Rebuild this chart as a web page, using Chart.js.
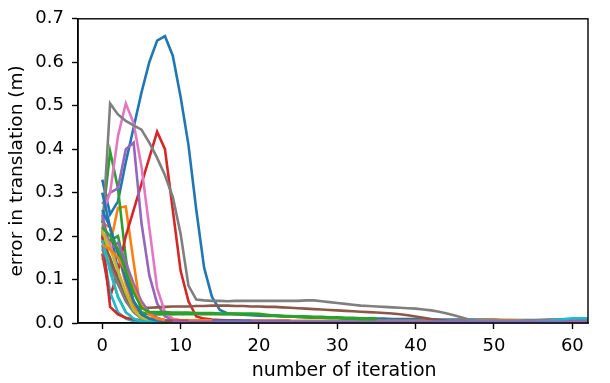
<!DOCTYPE html>
<html>
<head>
<meta charset="utf-8">
<script src="https://cdn.jsdelivr.net/npm/chart.js@4.4.1/dist/chart.umd.min.js"></script>
<style>
html,body{margin:0;padding:0;background:#fff;}
#wrap{width:610px;height:383px;position:relative;}
</style>
</head>
<body>
<div id="wrap"><canvas id="c" width="610" height="383"></canvas></div>
<script>
// x = iteration index (0,1,2,...), values = error in translation (m)
const blueA   = [0.33,0.25,0.28,0.37,0.45,0.53,0.60,0.65,0.66,0.615,0.52,0.41,0.26,0.127,0.06,0.03,0.022,0.02,0.019,0.018,0.017,0.016,0.016,0.015,0.015,0.014,0.014,0.013,0.013,0.012,0.012,0.011,0.011,0.011,0.010,0.010,0.010,0.009,0.009,0.009,0.009,0.008,0.008,0.008,0.008,0.008,0.008,0.008,0.008,0.008,0.008,0.007,0.007,0.007,0.007,0.007,0.007,0.007,0.007,0.007,0.007,0.007,0.007];
const orangeA = [0.145,0.18,0.265,0.268,0.14,0.018,0.012,0.009,0.007,0.006,0.006,0.005,0.005,0.005,0.005,0.005,0.005,0.005,0.005,0.005,0.005,0.005,0.005,0.005,0.005,0.005,0.005,0.005,0.005,0.005,0.005,0.005,0.005,0.005,0.005,0.005,0.005,0.005,0.005,0.005,0.005,0.005,0.005,0.005,0.005,0.005,0.005,0.005,0.006,0.007,0.007,0.007,0.007,0.006,0.005,0.005,0.005,0.005,0.005,0.005,0.005,0.005,0.005];
const greenA  = [0.23,0.395,0.31,0.15,0.035,0.022,0.02,0.02,0.02,0.02,0.02,0.02,0.02,0.02,0.02,0.02,0.02,0.02,0.02,0.02,0.019,0.018,0.017,0.016,0.016,0.015,0.015,0.014,0.014,0.013,0.013,0.012,0.012,0.011,0.011,0.010];
const redA    = [0.16,0.06,0.12,0.20,0.26,0.32,0.38,0.44,0.40,0.26,0.12,0.05,0.015,0.010,0.008,0.007,0.006,0.006,0.005,0.005,0.005,0.005,0.005,0.005,0.005];
const purpleA = [0.274,0.30,0.31,0.40,0.415,0.23,0.11,0.045,0.015,0.008,0.006,0.005,0.005,0.005,0.005,0.004,0.004,0.004,0.004,0.004];
const brownA  = [0.20,0.14,0.09,0.055,0.04,0.035,0.035,0.036,0.037,0.038,0.038,0.038,0.039,0.039,0.040,0.040,0.040,0.039,0.039,0.038,0.038,0.037,0.037,0.036,0.035,0.034,0.033,0.032,0.031,0.030,0.029,0.028,0.027,0.026,0.025,0.024,0.023,0.022,0.020,0.018,0.015,0.012,0.009,0.007,0.005,0.004,0.004,0.004,0.004,0.004,0.004,0.004,0.004,0.004,0.004,0.005,0.006,0.007,0.008,0.008,0.008,0.008,0.008];
const pinkA   = [0.25,0.30,0.43,0.505,0.46,0.36,0.22,0.08,0.025,0.010,0.006,0.005,0.005,0.004,0.004,0.004];
const grayA   = [0.20,0.505,0.48,0.465,0.455,0.445,0.415,0.38,0.34,0.29,0.205,0.086,0.054,0.052,0.051,0.051,0.050,0.051,0.051,0.051,0.051,0.051,0.051,0.051,0.051,0.051,0.052,0.052,0.050,0.048,0.046,0.044,0.042,0.040,0.039,0.038,0.037,0.036,0.035,0.034,0.033,0.031,0.029,0.026,0.022,0.017,0.012,0.007,0.005,0.005,0.005,0.005,0.005,0.005,0.005,0.006,0.007,0.008,0.008,0.008,0.008,0.008,0.008];
const oliveA  = [0.22,0.12,0.06,0.025,0.01,0.005,0.004,0.004,0.003,0.003,0.003];
const cyanA   = [0.18,0.07,0.025,0.01,0.004,0.003,0.003,0.003,0.003,0.003,0.003,0.003,0.003,0.003,0.003,0.003,0.003,0.003,0.003,0.003,0.003,0.003,0.003,0.003,0.003,0.003,0.003,0.003,0.003,0.003,0.003,0.003,0.003,0.003,0.003,0.003,0.003,0.003,0.003,0.003,0.003,0.003,0.003,0.003,0.003,0.003,0.003,0.003,0.003,0.003,0.003,0.003,0.003,0.003,0.003,0.003,0.004,0.005,0.007,0.009,0.011,0.011,0.011];
const blueB   = [0.30,0.22,0.12,0.06,0.03,0.015,0.008,0.006,0.005,0.005,0.005,0.005,0.005,0.005,0.005,0.005,0.005,0.005,0.005,0.005];
const orangeB = [0.23,0.22,0.16,0.09,0.04,0.015,0.008,0.006,0.006,0.006,0.006,0.006,0.006,0.006,0.006];
const greenB  = [0.20,0.19,0.20,0.12,0.05,0.025,0.02,0.02,0.021,0.021,0.022,0.022,0.022,0.022,0.022,0.021,0.021,0.021,0.020,0.020,0.019,0.018,0.017,0.016,0.015,0.015,0.014,0.013,0.013,0.012,0.012,0.011,0.011,0.010,0.010,0.009];
const redB    = [0.20,0.037,0.02,0.012,0.008,0.006,0.005,0.005,0.005,0.005,0.005,0.005];
const purpleB = [0.25,0.17,0.185,0.14,0.09,0.05,0.025,0.012,0.006,0.004,0.003,0.003,0.003,0.003,0.003,0.003,0.003,0.003,0.003,0.003,0.003,0.003,0.003,0.003,0.003,0.003,0.003,0.003,0.003,0.003,0.003,0.003,0.003,0.003,0.003,0.003,0.003,0.003,0.003,0.003,0.003,0.003,0.003,0.003,0.003,0.003,0.003,0.003,0.003,0.003,0.003,0.003,0.003,0.003,0.003,0.003,0.003,0.003,0.003,0.003,0.003,0.003,0.003];
const brownB  = [0.19,0.15,0.10,0.06,0.03,0.012,0.007,0.005,0.005,0.005];
const pinkB   = [0.21,0.18,0.12,0.07,0.03,0.012,0.006,0.004,0.004];
const grayB   = [0.17,0.13,0.09,0.05,0.025,0.010,0.005,0.004];
const oliveB  = [0.21,0.17,0.12,0.07,0.03,0.012,0.006,0.005];
const cyanB   = [0.19,0.12,0.06,0.025,0.010,0.004,0.003,0.003];
const blueC   = [0.26,0.22,0.16,0.10,0.05,0.02,0.010,0.006,0.005];
const orangeC = [0.18,0.17,0.15,0.12,0.08,0.04,0.02,0.010,0.007];
const greenC  = [0.22,0.20,0.17,0.12,0.07,0.035,0.025,0.025,0.025,0.024,0.024,0.024,0.023,0.023,0.023,0.022,0.022,0.022,0.022,0.022,0.021,0.019,0.017,0.016,0.015,0.014,0.013,0.012,0.012,0.011,0.011,0.010,0.010,0.009,0.009,0.009];

const seriesList = [blueA,orangeA,greenA,redA,purpleA,brownA,pinkA,grayA,oliveA,cyanA,
                    blueB,orangeB,greenB,redB,purpleB,brownB,pinkB,grayB,oliveB,cyanB,
                    blueC,orangeC,greenC];
const palette = ['#1f77b4','#ff7f0e','#2ca02c','#d62728','#9467bd','#8c564b','#e377c2','#7f7f7f','#bcbd22','#17becf'];
const yTicks = [0.0,0.1,0.2,0.3,0.4,0.5,0.6,0.7];
const xTicks = [0,10,20,30,40,50,60];
const xTitle = 'number of iteration';
const yTitle = 'error in translation (m)';

const datasets = seriesList.map((arr, i) => ({
  data: arr.map((v, k) => ({x: k, y: v})),
  borderColor: palette[i % palette.length],
  backgroundColor: palette[i % palette.length],
  borderWidth: 2.6,
  pointRadius: 0,
  tension: 0,
  fill: false,
  order: -i
}));

const frame = {
  id: 'frame',
  afterDatasetsDraw(chart) {
    const a = chart.chartArea, ctx = chart.ctx;
    ctx.save();
    ctx.strokeStyle = '#000';
    ctx.lineWidth = 1.4;
    ctx.strokeRect(a.left, a.top, a.right - a.left, a.bottom - a.top);
    ctx.restore();
  },
  afterDraw(chart) {
    const ctx = chart.ctx, a = chart.chartArea;
    ctx.save();
    ctx.fillStyle = '#000';
    ctx.font = '19px "DejaVu Sans"';
    ctx.textAlign = 'center';
    ctx.textBaseline = 'middle';
    ctx.fillText(xTitle, a.left + (a.right - a.left) * 0.522, 371);
    ctx.restore();
  }
};

const font = {family: 'DejaVu Sans', size: 18};
new Chart(document.getElementById('c'), {
  type: 'line',
  data: {datasets},
  options: {
    responsive: false,
    animation: false,
    layout: {padding: {left: 0, right: 22, top: 13, bottom: 0}},
    plugins: {legend: {display: false}, tooltip: {enabled: false}},
    scales: {
      x: {
        type: 'linear', min: -3.1, max: 62,
        afterBuildTicks: s => { s.ticks = xTicks.map(v => ({value: v})); },
        afterFit: s => { s.height = 60; },
        grid: {drawOnChartArea: false, drawTicks: true, tickLength: 6, tickWidth: 1.4, tickColor: '#000'},
        border: {display: true, color: '#000', width: 1.4},
        ticks: {color: '#000', font, padding: 7, maxRotation: 0, callback: v => String(v)},
        title: {display: false}
      },
      y: {
        type: 'linear', min: 0, max: 0.7,
        afterBuildTicks: s => { s.ticks = yTicks.map(v => ({value: v})); },
        afterFit: s => { s.width = 78; },
        grid: {drawOnChartArea: false, drawTicks: true, tickLength: 6, tickWidth: 1.4, tickColor: '#000'},
        border: {display: true, color: '#000', width: 1.4},
        ticks: {color: '#000', font, padding: 8, callback: v => Number(v).toFixed(1)},
        title: {display: true, text: yTitle, color: '#000', font: {family: 'DejaVu Sans', size: 18.5}, padding: {top: 6, bottom: 0}}
      }
    }
  },
  plugins: [frame]
});
</script>
</body>
</html>
